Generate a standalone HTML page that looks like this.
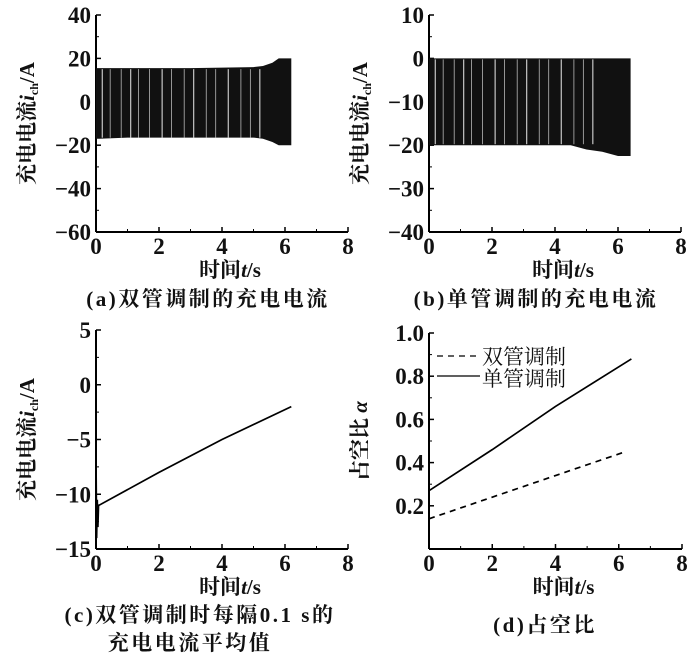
<!DOCTYPE html>
<html><head><meta charset="utf-8"><style>
body{margin:0;background:#fff;}
svg{display:block;}
text{font-family:"Liberation Serif","Noto Serif CJK SC",serif;fill:#111;}
.tk{font-weight:bold;font-size:23px;}
.cj{font-family:"Liberation Serif","Noto Serif CJK SC",serif;font-size:21px;}
</style></head><body>
<svg id="s" width="700" height="667" viewBox="0 0 700 667"></svg>
<script>
// (a) double-tube charging current envelope
const aTime=[0,0.1,1,3,5,5.3,5.6,5.8,6.2];
const aUpper=[15.5,15.5,15.5,15.5,16,16.5,18,20,20];
const aLower=[-17,-17,-16.5,-16.5,-16.5,-17,-18.5,-20,-20];
// (b) single-tube charging current envelope
const bTime=[0,0.1,2,4,4.5,5,5.5,6,6.4];
const bUpper=[0,0,0,0,0,0,0,0,0];
const bLower=[-20,-20,-20,-20,-20,-21,-21.5,-22.5,-22.5];
// (c) 0.1 s average current
const cTime=[0,0.02,0.04,0.06,0.08,0.1,2,4,6.2];
const cValues=[-6.5,-14,-10.5,-13,-11,-11,-8,-5,-2];
// (d) duty ratio
const dTime=[0,2,4,6.4];
const dSingle=[0.27,0.46,0.66,0.88];
const dTimeDouble=[0,2,4,6.2];
const dDouble=[0.14,0.24,0.34,0.45];
const xTicks=[0,2,4,6,8];
const aYTicks=[40,20,0,-20,-40,-60];
const bYTicks=[10,0,-10,-20,-30,-40];
const cYTicks=[5,0,-5,-10,-15];
const dYTicks=[1.0,0.8,0.6,0.4,0.2];

const S=document.getElementById('s');
const NS='http://www.w3.org/2000/svg';
function el(tag,attrs,parent,txt){const e=document.createElementNS(NS,tag);for(const k in attrs)e.setAttribute(k,attrs[k]);if(txt!==undefined)e.textContent=txt;(parent||S).appendChild(e);return e;}
function minus(v){return String(v).replace('-','\u2212');}

function panel(name,x0,x1,yTop,yBot,ymin,ymax,yTicks,yFmt,ylabel){
  const g=el('g',{});
  
  
  const sx=v=>x0+(v-0)/8*(x1-x0);
  const sy=v=>yBot-(v-ymin)/(ymax-ymin)*(yBot-yTop);
  el('line',{x1:x0,y1:yTop,x2:x0,y2:yBot,stroke:'#000','stroke-width':2},g);
  el('line',{x1:x0,y1:yBot,x2:x1,y2:yBot,stroke:'#000','stroke-width':2},g);
  xTicks.forEach(t=>{
    el('line',{x1:sx(t),y1:yBot,x2:sx(t),y2:yBot-5,stroke:'#000','stroke-width':1.5},g);
    if(t<8) el('line',{x1:sx(t+1),y1:yBot,x2:sx(t+1),y2:yBot-3,stroke:'#000','stroke-width':1},g);
    const tx=el('text',{x:sx(t),y:yBot+22,'text-anchor':'middle',class:'tk'},g,String(t));
    
    
  });
  yTicks.forEach((t,i)=>{
    el('line',{x1:x0,y1:sy(t),x2:x0+5,y2:sy(t),stroke:'#000','stroke-width':1.5},g);
    if(i<yTicks.length-1){const m=(t+yTicks[i+1])/2;el('line',{x1:x0,y1:sy(m),x2:x0+3,y2:sy(m),stroke:'#000','stroke-width':1},g);}
    const ty=el('text',{x:x0-5,y:sy(t)+8,'text-anchor':'end',class:'tk'},g,yFmt(t));
    
    
  });
  const xt=el('text',{x:(x0+x1)/2+8,y:yBot+45,'text-anchor':'middle',class:'cj','font-weight':'bold','font-size':22},g);
  
  
  el('tspan',{},xt,'时间');el('tspan',{'font-style':'italic'},xt,'t');el('tspan',{},xt,'/s');
  const yl=el('text',{transform:`translate(${x0-62},${(yTop+yBot)/2}) rotate(-90)`,'text-anchor':'middle',class:'cj','font-size':23,'font-weight':'bold'},g);
  
  
  ylabel(yl);
  return {g,sx,sy};
}
function ylCurrent(yl){el('tspan',{},yl,'充电电流');el('tspan',{'font-style':'italic'},yl,'i');el('tspan',{'font-size':12,dy:4},yl,'ch');el('tspan',{dy:-4},yl,'/A');}
function band(p,ts,up,lo,name){
  let d='M'+ts.map((t,i)=>p.sx(t)+','+p.sy(up[i])).join(' L');
  for(let i=ts.length-1;i>=0;i--) d+=' L'+p.sx(ts[i])+','+p.sy(lo[i]);
  const b=el('path',{d:d+'Z',fill:'#111'},p.g);
  
  
  const gaps=[0.2,0.45,0.8,1.1,1.35,1.7,2.1,2.4,2.8,3.1,3.5,3.8,4.2,4.6,4.9,5.2];
  gaps.forEach((t,k)=>{
    if(t<ts[ts.length-1]-0.3) el('line',{x1:p.sx(t),y1:p.sy(up[0])+1,x2:p.sx(t),y2:p.sy(lo[0])-1,stroke:'#fff','stroke-width':k%3===0?1.3:0.8,opacity:0.7},p.g);
  });
}
function line(p,xs,ys,name,dash){
  const l=el('polyline',{points:xs.map((t,i)=>p.sx(t)+','+p.sy(ys[i])).join(' '),fill:'none',stroke:'#000','stroke-width':1.7,'stroke-dasharray':dash||'none'},p.g);
  
  
}
const pa=panel('panel-a',96,348,15,232,-60,40,aYTicks,minus,ylCurrent);
band(pa,aTime,aUpper,aLower,'current-band-a');
const pb=panel('panel-b',429,681,15,232,-40,10,bYTicks,minus,ylCurrent);
band(pb,bTime,bUpper,bLower,'current-band-b');
const pc=panel('panel-c',96,348,330,549,-15,5,cYTicks,minus,ylCurrent);
line(pc,cTime,cValues,'average-current-line');
const pd=panel('panel-d',429,682,333,549,0,1.0,dYTicks,v=>v.toFixed(1),yl=>{el('tspan',{},yl,'占空比 ');el('tspan',{'font-style':'italic'},yl,'α');});
line(pd,dTime,dSingle,'single-tube-line');
line(pd,dTimeDouble,dDouble,'double-tube-line','6,5');
// legend
const lg=el('g',{});


el('line',{x1:437,y1:356,x2:480,y2:356,stroke:'#000','stroke-width':1.3,'stroke-dasharray':'6,5'},lg);
el('text',{x:482,y:364,class:'cj','font-size':22},lg,'双管调制');
el('line',{x1:437,y1:376,x2:480,y2:376,stroke:'#000','stroke-width':1.3},lg);
el('text',{x:482,y:386,class:'cj','font-size':22},lg,'单管调制');
// captions
function cap(x,y,t,name){const c=el('text',{x:x,y:y,'text-anchor':'middle',class:'cj','font-size':23,'font-weight':'bold','letter-spacing':2.5},S,t);}
cap(208,306,'(a)双管调制的充电电流','caption-a');
cap(536,306,'(b)单管调制的充电电流','caption-b');
cap(200,622,'(c)双管调制时每隔0.1 s的','caption-c-line1');
cap(190,650,'充电电流平均值','caption-c-line2');
cap(545,632,'(d)占空比','caption-d');
</script>
</body></html>
